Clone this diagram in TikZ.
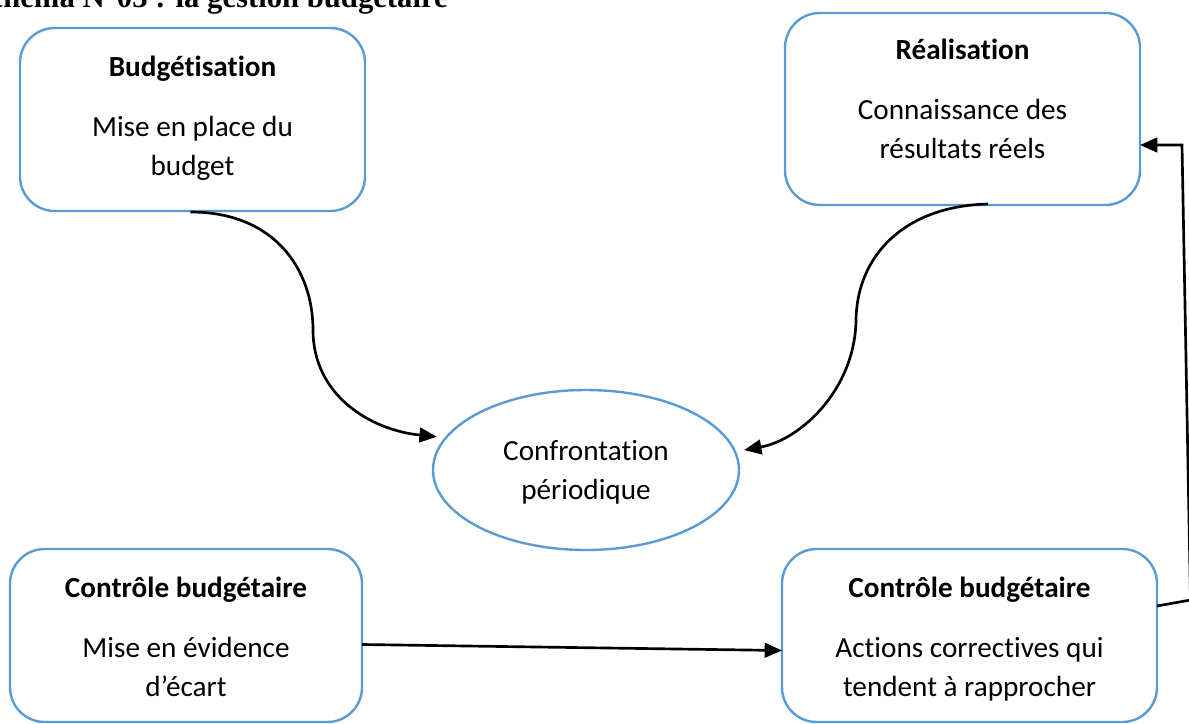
\documentclass[tikz,border=0pt]{standalone}
\usepackage{fontspec}
\setmainfont{Carlito}[Ligatures=NoCommon]
\newfontfamily\headfont{Liberation Serif}
\usetikzlibrary{arrows.meta,shapes.geometric,calc}
\definecolor{boxblue}{HTML}{5B9BD5}
\begin{document}
\begin{tikzpicture}[x=0.75pt,y=-0.75pt,
  panel/.style={draw=boxblue,line width=1.8pt,rounded corners=26pt,inner sep=0pt,outer sep=0pt},
  oval/.style={ellipse,draw=boxblue,line width=1.8pt,inner sep=0pt,outer sep=0pt,
               minimum width=229.5pt,minimum height=120pt},
  heading/.style={font=\fontsize{21.9pt}{28.9pt}\selectfont\bfseries,anchor=base,inner sep=0pt},
  body/.style={font=\fontsize{21.9pt}{28.9pt}\selectfont,align=center,anchor=base,inner sep=0pt},
  link/.style={line width=2pt,-{Triangle[length=13pt,width=11pt]}},
]
\useasboundingbox (0,0) rectangle (1189,724);

% caption, partly above the page edge
\node[font=\headfont\bfseries\fontsize{23pt}{28pt}\selectfont,anchor=base east,inner sep=0pt]
  (title) at (448,7.5) {Schéma N°03 : la gestion budgétaire};

% boxes
\node[panel,minimum width=258.75pt,minimum height=137.25pt] (b1) at (192.5,119.5) {};
\node[panel,minimum width=266.25pt,minimum height=144pt] (b2) at (962.5,109) {};
\node[panel,minimum width=264pt,minimum height=129.75pt] (b3) at (186,635.5) {};
\node[panel,minimum width=281.25pt,minimum height=129.75pt] (b4) at (969.5,635.5) {};
\node[oval] (ell) at (586,470) {};

% texts (body nodes are placed by the baseline of their last line)
\node[heading] (h1) at (192.5,77) {Budgétisation};
\node[body] (t1) at (192.5,175.5) {Mise en place du\\budget};
\node[heading] (h2) at (962.5,60) {Réalisation};
\node[body] (t2) at (962.5,158) {Connaissance des\\résultats réels};
\node[body] (t5) at (586,499) {Confrontation\\périodique};
\node[heading] (h3) at (186,597) {Contrôle budgétaire};
\node[body] (t3) at (186,696) {Mise en évidence\\d’écart};
\node[heading] (h4) at (969.5,597) {Contrôle budgétaire};
\node[body] (t4) at (969.5,696) {Actions correctives qui\\tendent à rapprocher};

% connectors
\draw[link,shorten >=7pt] ($(b1.south)+(-2,1)$) .. controls (275,212) and (313,270) .. (313,330)
  .. controls (313,395) and (370,430) .. (ell.167);
\draw[link,shorten >=7pt] ($(b2.south)+(25.5,-1)$) .. controls (905,206) and (857,255) .. (856,320)
  .. controls (855,390) and (800,440) .. (ell.7);
\draw[link] ($(b3.east)+(0,9)$) -- ($(b4.west)+(0,15)$);
\coordinate (bendlow) at (1190.5,600);
\coordinate (bendhigh) at (1182,145);
\draw[link] ($(b4.east)+(0,-29.5)$) -- (bendlow) -- (bendhigh) -- ($(b2.east)+(0,36)$);
\end{tikzpicture}
\end{document}
